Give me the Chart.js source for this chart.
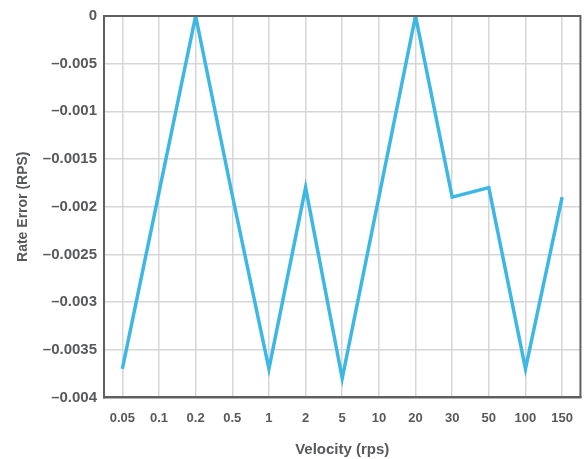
<!DOCTYPE html>
<html lang="en">
  <head>
    <meta charset="utf-8" />
    <title>Rate Error vs Velocity</title>
    <style>
      html, body { margin: 0; padding: 0; background: #fff; }
      .chartBox { width: 586px; height: 459px; }
    </style>
  </head>
  <body>
    <div class="chartBox">
      <canvas id="myChart"></canvas>
    </div>
    <script src="https://cdn.jsdelivr.net/npm/chart.js"></script>
    <script>
      const velocities = ["0.05", "0.1", "0.2", "0.5", "1", "2", "5", "10", "20", "30", "50", "100", "150"];
      const rateError = [-0.0037, -0.00185, 0, -0.00188, -0.0037, -0.0018, -0.0038, -0.0019, 0, -0.0019, -0.0018, -0.0037, -0.0019];
      // labels from bottom (-0.004) to top (0), as printed on the original
      const yTickLabels = ["–0.004", "–0.0035", "–0.003", "–0.0025", "–0.002", "–0.0015", "–0.001", "–0.005", "0"];

      const textColor = "#58595b";
      const axisColor = "#5f6062";

      // draw the closed box around the plot area
      const frame = {
        id: "frame",
        afterDraw(chart) {
          const { ctx, chartArea } = chart;
          ctx.save();
          ctx.strokeStyle = axisColor;
          ctx.lineWidth = 2;
          ctx.strokeRect(chartArea.left, chartArea.top, chartArea.right - chartArea.left, chartArea.bottom - chartArea.top);
          ctx.restore();
        },
      };

      const data = {
        labels: velocities,
        datasets: [
          {
            label: "Rate Error",
            data: rateError,
            borderColor: "#3db8e5",
            borderWidth: 3.5,
            pointRadius: 0,
            tension: 0,
            fill: false,
          },
        ],
      };

      const config = {
        type: "line",
        data,
        plugins: [frame],
        options: {
          responsive: true,
          maintainAspectRatio: false,
          animation: false,
          layout: { padding: { top: 6, right: 1, left: 11, bottom: 0 } },
          plugins: {
            legend: { display: false },
            tooltip: { enabled: false },
          },
          scales: {
            x: {
              offset: true,
              grid: { offset: false, color: "#d6d6d6", lineWidth: 1.5, drawTicks: false },
              border: { color: axisColor, width: 2 },
              ticks: {
                color: textColor,
                padding: 13,
                maxRotation: 0,
                font: { family: "Liberation Sans, Arial, sans-serif", weight: "bold", size: 13 },
              },
              title: {
                display: true,
                text: "Velocity (rps)",
                color: textColor,
                padding: { top: 2, bottom: 0 },
                font: { family: "Liberation Sans, Arial, sans-serif", weight: "bold", size: 15 },
              },
            },
            y: {
              min: -0.004,
              max: 0,
              grid: { color: "#d6d6d6", lineWidth: 1.5, drawTicks: false },
              border: { color: axisColor, width: 2 },
              ticks: {
                stepSize: 0.0005,
                color: textColor,
                padding: 7,
                font: { family: "Liberation Sans, Arial, sans-serif", weight: "bold", size: 15 },
                callback: (value, index) => yTickLabels[index],
              },
              title: {
                display: true,
                text: "Rate Error (RPS)",
                color: textColor,
                padding: { bottom: 4 },
                font: { family: "Liberation Sans, Arial, sans-serif", weight: "bold", size: 14 },
              },
            },
          },
        },
      };

      const myChart = new Chart(document.getElementById("myChart"), config);
    </script>
  </body>
</html>
